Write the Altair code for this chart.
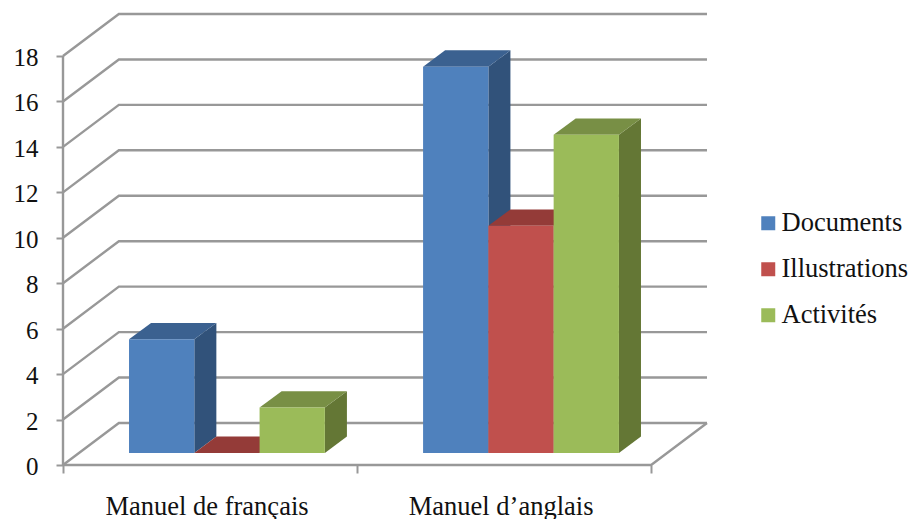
import altair as alt
import pandas as pd

categories = ["Manuel de français", "Manuel d’anglais"]
series = ["Documents", "Illustrations", "Activités"]
values = {
    "Documents": [5, 17],
    "Illustrations": [0, 10],
    "Activités": [2, 14],
}
front_colors = ["#4F81BD", "#C0504D", "#9BBB59"]
side_colors = ["#31527A", "#7D3331", "#647735"]
top_colors = ["#3B6190", "#943B38", "#788F45"]
y_ticks = list(range(0, 20, 2))

GRID = "#989898"
FONT = "Liberation Serif"

# Oblique projection of the depth axis, in axis units
WALL_DX, WALL_DY = 0.19, 1.85
BAR_DX, BAR_DY = 0.075, 0.72
BASE = 0.53
GAP = 0.2245
BAR_W = 0.222

x_scale = alt.Scale(domain=[0, 2 + WALL_DX], nice=False, zero=False)
y_scale = alt.Scale(domain=[0, 18 + WALL_DY], nice=False, zero=False)

label_expr = (
    f"datum.value == 0.5 ? '{categories[0]}' : "
    f"datum.value == 1.5 ? '{categories[1]}' : ''"
)
between_ticks = "datum.value == 0.5 || datum.value == 1.5"

x_axis = alt.Axis(
    values=[0, 0.5, 1, 1.5, 2],
    labelExpr=label_expr,
    title=None,
    grid=False,
    domain=False,
    tickColor=GRID,
    tickWidth=2,
    tickSize=8,
    tickOpacity={"condition": {"test": between_ticks, "value": 0}, "value": 1},
    labelFont=FONT,
    labelFontSize=26.5,
    labelColor="#111111",
    labelAngle=0,
    labelPadding=20,
    labelOffset=-3.5,
    labelLimit=320,
    labelOverlap=False,
    labelBound=False,
    labelFlush=False,
)
y_axis = alt.Axis(
    values=y_ticks,
    title=None,
    grid=False,
    domain=False,
    tickColor=GRID,
    tickWidth=2,
    tickSize=7,
    labelFont=FONT,
    labelFontSize=25,
    labelColor="#111111",
    labelPadding=18,
    labelOffset=1.5,
    labelOverlap=False,
    labelBound=False,
    labelFlush=False,
)

# Walls, floor and the vertical axis line
frame = []
for v in y_ticks:
    frame += [
        {"line": f"g{v}", "x": 0, "y": v},
        {"line": f"g{v}", "x": WALL_DX, "y": v + WALL_DY},
        {"line": f"g{v}", "x": 2 + WALL_DX, "y": v + WALL_DY},
    ]
frame += [
    {"line": "floor", "x": 0, "y": 0},
    {"line": "floor", "x": 2, "y": 0},
    {"line": "floor", "x": 2 + WALL_DX, "y": WALL_DY},
    {"line": "axis", "x": 0, "y": 0},
    {"line": "axis", "x": 0, "y": 18},
]
frame_df = pd.DataFrame(frame)
frame_df["idx"] = range(len(frame_df))

frame_layer = alt.Chart(frame_df).mark_line(
    color=GRID, strokeWidth=2.4, strokeJoin="miter"
).encode(
    x=alt.X("x:Q", scale=x_scale, axis=x_axis),
    y=alt.Y("y:Q", scale=y_scale, axis=y_axis),
    detail="line:N",
    order="idx:Q",
)

layers = [frame_layer]

# Each series is painted left to right so nearer faces cover the ones behind
for s_i, name in enumerate(series):
    fronts, faces = [], []
    for c_i, v in enumerate(values[name]):
        x0 = c_i + GAP + s_i * BAR_W
        x1 = x0 + BAR_W
        low, high = BASE, BASE + v
        fronts.append({"series": name, "x": x0, "x2": x1, "y": high, "y2": low})
        side = f"side{c_i}"
        top = f"top{c_i}"
        faces += [
            {"face": side, "fill": side_colors[s_i], "x": x1, "y": high, "y2": low},
            {"face": side, "fill": side_colors[s_i], "x": x1 + BAR_DX,
             "y": high + BAR_DY, "y2": low + BAR_DY},
            {"face": top, "fill": top_colors[s_i], "x": x0, "y": high, "y2": high},
            {"face": top, "fill": top_colors[s_i], "x": x0 + BAR_DX,
             "y": high + BAR_DY, "y2": high},
            {"face": top, "fill": top_colors[s_i], "x": x1,
             "y": high + BAR_DY, "y2": high},
            {"face": top, "fill": top_colors[s_i], "x": x1 + BAR_DX,
             "y": high + BAR_DY, "y2": high + BAR_DY},
        ]
    layers.append(
        alt.Chart(pd.DataFrame(faces)).mark_area(orient="vertical", opacity=1).encode(
            x=alt.X("x:Q", scale=x_scale, axis=x_axis),
            y=alt.Y("y:Q", scale=y_scale, axis=y_axis, stack=None),
            y2="y2:Q",
            fill=alt.Fill("fill:N", scale=None),
            detail="face:N",
        )
    )
    layers.append(
        alt.Chart(pd.DataFrame(fronts)).mark_rect(opacity=1).encode(
            x=alt.X("x:Q", scale=x_scale, axis=x_axis),
            x2="x2:Q",
            y=alt.Y("y:Q", scale=y_scale, axis=y_axis),
            y2="y2:Q",
            color=alt.Color(
                "series:N",
                scale=alt.Scale(domain=series, range=front_colors),
                legend=alt.Legend(
                    title=None,
                    orient="none",
                    legendX=692,
                    legendY=196,
                    symbolType="square",
                    symbolSize=196,
                    symbolStrokeWidth=0,
                    symbolOpacity=1,
                    labelFont=FONT,
                    labelFontSize=26.5,
                    labelColor="#111111",
                    labelOffset=0,
                    labelLimit=200,
                    rowPadding=19,
                ),
            ),
        )
    )

chart = alt.layer(*layers).properties(
    width=644,
    height=451,
    padding={"left": 63, "top": 14, "right": 204, "bottom": 54},
    autosize=alt.AutoSizeParams(type="none"),
    background="white",
).configure_view(stroke=None)

chart.save("out.html", embed_options={"renderer": "svg", "actions": False})
